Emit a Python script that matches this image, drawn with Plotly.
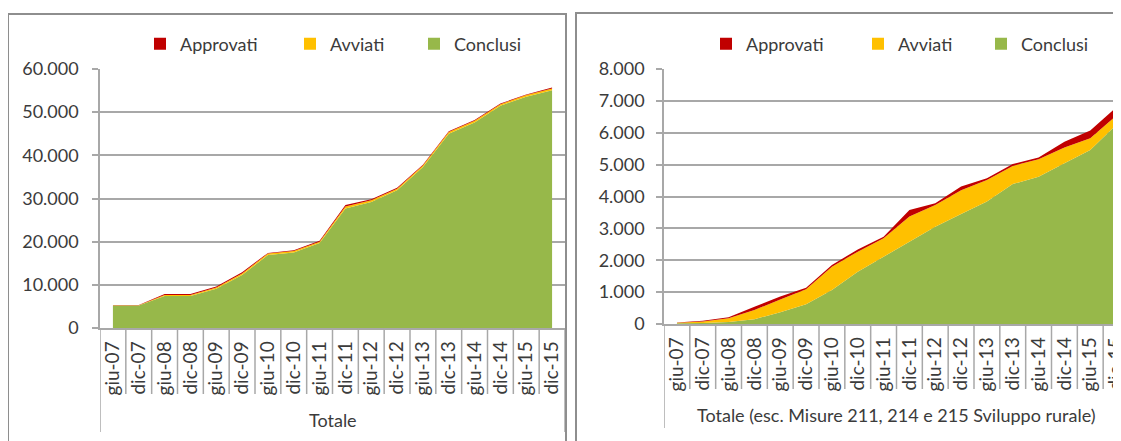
import plotly.graph_objects as go

# ---------------- data ----------------
categories = ["giu-07", "dic-07", "giu-08", "dic-08", "giu-09", "dic-09",
              "giu-10", "dic-10", "giu-11", "dic-11", "giu-12", "dic-12",
              "giu-13", "dic-13", "giu-14", "dic-14", "giu-15", "dic-15"]

left_conclusi = [5200, 5200, 7400, 7400, 9100, 12300, 16900, 17500, 19700,
                 27700, 29200, 31900, 37300, 45000, 47600, 51500, 53600, 55100]
left_avviati = [60, 60, 250, 250, 300, 350, 350, 350, 300,
                450, 400, 350, 350, 400, 400, 350, 350, 400]
left_approvati = [40, 40, 250, 250, 200, 250, 150, 150, 200,
                  350, 200, 250, 150, 200, 200, 150, 150, 200]

right_conclusi = [20, 30, 60, 150, 370, 620, 1070, 1640, 2110,
                  2580, 3050, 3450, 3840, 4390, 4620, 5040, 5460, 6240]
right_avviati = [20, 50, 120, 290, 400, 470, 730, 630, 580,
                 790, 680, 750, 680, 570, 550, 500, 370, 290]
right_approvati = [10, 20, 30, 100, 90, 50, 50, 70, 50,
                   210, 60, 110, 50, 60, 50, 180, 240, 260]

left_yticks = [0, 10000, 20000, 30000, 40000, 50000, 60000]
right_yticks = [0, 1000, 2000, 3000, 4000, 5000, 6000, 7000, 8000]

left_title = "Totale"
right_title = "Totale (esc. Misure 211, 214 e 215 Sviluppo rurale)"

series_names = ["Approvati", "Avviati", "Conclusi"]
colors = {"Approvati": "#c00000", "Avviati": "#ffc000", "Conclusi": "#97b84a"}

# ---------------- layout helpers ----------------
# the page body has an 8px default margin; work in window pixels and convert
OX, OY = 8, 8
WIN_W, WIN_H = 1121, 441
W, H = WIN_W - OX, WIN_H - OY
FONT = "Lato"
TXT = "#3b3b3b"
GRID = "#a8a8a8"
BORDER = "#8e8e8e"


def fx(px):
    return (px - OX) / W


def fy(py):
    return 1 - (py - OY) / H


fig = go.Figure()

panels = [
    dict(xa="x", ya="y", data={"Conclusi": left_conclusi, "Avviati": left_avviati,
                               "Approvati": left_approvati}, grp="L"),
    dict(xa="x2", ya="y2", data={"Conclusi": right_conclusi, "Avviati": right_avviati,
                                 "Approvati": right_approvati}, grp="R"),
]

for p in panels:
    for name in ["Conclusi", "Avviati", "Approvati"]:
        fig.add_trace(go.Scatter(
            x=categories, y=p["data"][name], name=name,
            mode="none", stackgroup=p["grp"], fillcolor=colors[name],
            xaxis=p["xa"], yaxis=p["ya"], showlegend=False, hoverinfo="skip"))

# legend-only entries (square symbols), one legend per entry for exact placement
legend_positions = {
    "L": [(140, "Approvati"), (290, "Avviati"), (414, "Conclusi")],
    "R": [(706, "Approvati"), (858, "Avviati"), (981, "Conclusi")],
}
lg_index = 1
for grp, items in legend_positions.items():
    xa, ya = ("x", "y") if grp == "L" else ("x2", "y2")
    for xpx, name in items:
        key = "legend" if lg_index == 1 else f"legend{lg_index}"
        fig.add_trace(go.Bar(x=[None], y=[None], name=name,
                             marker=dict(color=colors[name], line=dict(width=0)),
                             xaxis=xa, yaxis=ya, legend=key, showlegend=True))
        fig.layout[key] = dict(
            x=fx(xpx), y=fy(44), xanchor="left", yanchor="middle",
            orientation="h", bgcolor="rgba(0,0,0,0)", borderwidth=0,
            font=dict(family=FONT, size=18, color=TXT))
        lg_index += 1

common_x = dict(type="category", showgrid=False, showline=True, linecolor=GRID,
                linewidth=1.5, ticks="", tickangle=-90, ticklabelstandoff=4,
                automargin=False,
                tickfont=dict(family=FONT, size=19, color=TXT), fixedrange=True)
common_y = dict(showgrid=True, gridcolor=GRID, gridwidth=1.5, zeroline=False,
                showline=True, linecolor=GRID, linewidth=1.5, ticks="outside",
                ticklen=6, tickcolor=GRID, tickwidth=1.5, tickformat=",d",
                automargin=False,
                tickfont=dict(family=FONT, size=18, color=TXT), fixedrange=True)

n = len(categories)
L_left, L_right, L_top, L_bot = 100, 565, 69, 328
R_left, R_top, R_bot = 664, 69, 324
cat_w = (L_right - L_left) / n
R_right_full = R_left + cat_w * n
r_range_max = -0.5 + n * (WIN_W - R_left) / (R_right_full - R_left)

fig.update_layout(
    width=W, height=H, autosize=False,
    margin=dict(l=0, r=0, t=0, b=0, pad=0, autoexpand=False),
    paper_bgcolor="white", plot_bgcolor="white",
    separators=",.",
    barmode="overlay",
    xaxis=dict(common_x, domain=[fx(L_left), fx(L_right)], anchor="y",
               range=[-0.5, n - 0.5]),
    yaxis=dict(common_y, domain=[fy(L_bot), fy(L_top)], anchor="x",
               range=[0, left_yticks[-1]], tickvals=left_yticks, ticklabelstandoff=10),
    xaxis2=dict(common_x, domain=[fx(R_left), 1.0], anchor="y2",
                range=[-0.5, r_range_max]),
    yaxis2=dict(common_y, domain=[fy(R_bot), fy(R_top)], anchor="x2",
                range=[0, right_yticks[-1]], tickvals=right_yticks, ticklabelstandoff=8),
)

shapes = []
# panel borders
shapes.append(dict(type="rect", xref="paper", yref="paper", x0=fx(8), x1=fx(566),
                   y0=fy(14), y1=fy(470), line=dict(color=BORDER, width=2),
                   fillcolor="rgba(0,0,0,0)", layer="above"))
shapes.append(dict(type="rect", xref="paper", yref="paper", x0=fx(576), x1=fx(1150),
                   y0=fy(13), y1=fy(470), line=dict(color=BORDER, width=2),
                   fillcolor="rgba(0,0,0,0)", layer="above"))

# category boundary lines (Excel-style multi-level axis)
for xa, bot, inner_end, outer_end in [("x", L_bot, 394, 432), ("x2", R_bot, 389, 428)]:
    for i in range(n + 1):
        pos = i - 0.5
        end = outer_end if i in (0, n) else inner_end
        shapes.append(dict(type="line", xref=xa, yref="paper", x0=pos, x1=pos,
                           y0=fy(bot), y1=fy(end), line=dict(color=GRID, width=1.5)))
fig.update_layout(shapes=shapes)

annotations = [
    dict(text=left_title, xref="x", yref="paper", x=(n - 1) / 2, y=fy(420),
         showarrow=False, xanchor="center", yanchor="middle",
         font=dict(family=FONT, size=18, color=TXT)),
    dict(text=right_title, xref="x2", yref="paper", x=(n - 1) / 2, y=fy(415),
         showarrow=False, xanchor="center", yanchor="middle",
         font=dict(family=FONT, size=18, color=TXT)),
]
fig.update_layout(annotations=annotations)

fig.write_html("out.html")
